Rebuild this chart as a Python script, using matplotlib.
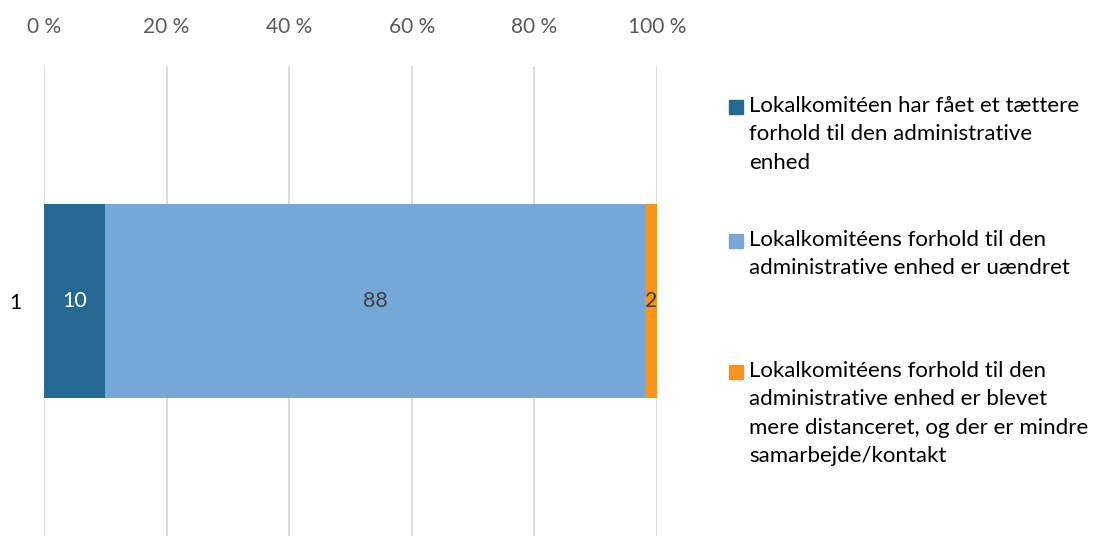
import matplotlib.pyplot as plt
from matplotlib.patches import Rectangle

# data
category = ["1"]
series_labels = [
    "Lokalkomitéen har fået et tættere\nforhold til den administrative\nenhed",
    "Lokalkomitéens forhold til den\nadministrative enhed er uændret",
    "Lokalkomitéens forhold til den\nadministrative enhed er blevet\nmere distanceret, og der er mindre\nsamarbejde/kontakt",
]
values = [10, 88, 2]
colors = ["#256891", "#75A8D6", "#F7941D"]
label_colors = ["white", "#404040", "#404040"]
ticks = [0, 20, 40, 60, 80, 100]
tick_labels = ["0 %", "20 %", "40 %", "60 %", "80 %", "100 %"]

plt.rcParams["font.family"] = ["Lato", "DejaVu Sans"]

fig = plt.figure(figsize=(10.94, 5.36), dpi=100)
W, H = 1094, 536
ax = fig.add_axes([44 / W, 0, (657 - 44) / W, (536 - 66) / H])

left = 0
for v, c, lc in zip(values, colors, label_colors):
    ax.barh(0, v, left=left, height=0.413, color=c, zorder=3)
    ax.text(left + v / 2, 0, str(v), ha="center", va="center",
            fontsize=15.5, color=lc, zorder=4)
    left += v

ax.set_xlim(0, 100)
ax.set_ylim(-0.5, 0.5)
ax.set_xticks(ticks)
ax.set_xticklabels(tick_labels, fontsize=15, color="#595959")
ax.xaxis.tick_top()
ax.tick_params(axis="x", length=0, pad=21)
ax.set_yticks([0])
ax.set_yticklabels(category, fontsize=15, color="black")
ax.tick_params(axis="y", length=0, pad=16)
ax.grid(axis="x", color="#d9d9d9", linewidth=1.3, zorder=0)
for s in ax.spines.values():
    s.set_visible(False)

# legend drawn by hand to keep Excel's spacing
entry_top = [107, 241, 372]
for lab, c, y in zip(series_labels, colors, entry_top):
    fig.patches.append(Rectangle((729 / W, (H - y - 7) / H), 14 / W, 14 / H,
                                 transform=fig.transFigure, color=c))
    fig.text(749 / W, (H - y + 11) / H, lab, ha="left", va="top",
             fontsize=16, color="black", linespacing=1.52)

fig.savefig("out.png", dpi=100)
